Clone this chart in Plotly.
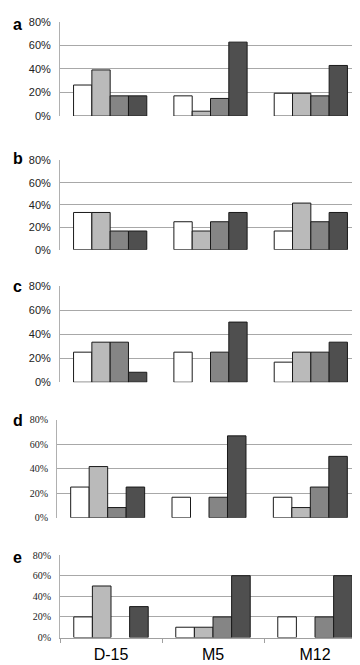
import plotly.graph_objects as go

categories = ["D-15", "M5", "M12"]
panel_letters = ["a", "b", "c", "d", "e"]

# series values (%) per panel: s1 white, s2 light grey, s3 mid grey, s4 dark grey
a_s1 = [26.4, 17.2, 19.4]
a_s2 = [39.2, 4.2, 19.4]
a_s3 = [17.2, 15.0, 17.2]
a_s4 = [17.2, 62.8, 43.0]

b_s1 = [33.3, 25.0, 16.7]
b_s2 = [33.3, 16.7, 41.7]
b_s3 = [16.7, 25.0, 25.0]
b_s4 = [16.7, 33.3, 33.3]

c_s1 = [25.0, 25.0, 16.7]
c_s2 = [33.3, 0.0, 25.0]
c_s3 = [33.3, 25.0, 25.0]
c_s4 = [8.3, 50.0, 33.3]

d_s1 = [25.0, 16.7, 16.7]
d_s2 = [41.7, 0.0, 8.3]
d_s3 = [8.3, 16.7, 25.0]
d_s4 = [25.0, 66.7, 50.0]

e_s1 = [20.0, 10.0, 20.0]
e_s2 = [50.0, 10.0, 0.0]
e_s3 = [0.0, 20.0, 20.0]
e_s4 = [30.0, 60.0, 60.0]

y_ticks = [0, 20, 40, 60, 80]

panels = [
    [a_s1, a_s2, a_s3, a_s4],
    [b_s1, b_s2, b_s3, b_s4],
    [c_s1, c_s2, c_s3, c_s4],
    [d_s1, d_s2, d_s3, d_s4],
    [e_s1, e_s2, e_s3, e_s4],
]

W, H = 360, 665
# pixel layout: (top, bottom, left, right)
boxes = [
    (8, 104, 52, 353),
    (149, 240, 52, 353),
    (277, 375, 52, 353),
    (413, 513, 49, 353),
    (551, 635, 52, 358),
]
label_y = [11, 147, 277, 414, 553]
fills = ["#ffffff", "#bababa", "#858585", "#4f4f4f"]
tick_fonts = ["Liberation Sans"] * 3 + ["Liberation Serif"] * 2
tick_sizes = [11, 11, 11, 10, 10]

fig = go.Figure()
layout = {}
for i, series in enumerate(panels):
    top, bot, left, right = boxes[i]
    xn = "x" if i == 0 else f"x{i+1}"
    yn = "y" if i == 0 else f"y{i+1}"
    for j, vals in enumerate(series):
        fig.add_trace(go.Bar(
            x=categories,
            y=[v if v > 0 else None for v in vals],
            xaxis=xn, yaxis=yn,
            marker=dict(color=fills[j], line=dict(color="#1a1a1a", width=1)),
            showlegend=False,
        ))
    last = i == 4
    layout["xaxis" if i == 0 else f"xaxis{i+1}"] = dict(
        domain=[left / W, right / W],
        anchor=yn,
        showticklabels=last,
        tickfont=dict(family="Liberation Sans", size=16, color="#000"),
        ticklabelstandoff=2,
        showline=last, linecolor="#a0a0a0", linewidth=1,
        ticks="outside" if last else "", tickson="boundaries",
        ticklen=4, tickcolor="#a0a0a0",
        showgrid=False, fixedrange=True,
    )
    layout["yaxis" if i == 0 else f"yaxis{i+1}"] = dict(
        domain=[1 - bot / H, 1 - top / H],
        anchor=xn,
        range=[0, 80],
        tickvals=y_ticks,
        ticktext=[f"{t}%" for t in y_ticks],
        tickfont=dict(family=tick_fonts[i], size=tick_sizes[i], color="#222"),
        ticklabelstandoff=6,
        showgrid=True, gridcolor="#a8a8a8", gridwidth=1,
        zeroline=False,
        showline=True, linecolor="#b0b0b0", linewidth=1,
        fixedrange=True,
    )
    fig.add_annotation(
        x=3 / W, y=1 - label_y[i] / H, xref="paper", yref="paper",
        text=f"<b>{panel_letters[i]}</b>", showarrow=False,
        xanchor="left", yanchor="middle",
        font=dict(family="Liberation Sans", size=16, color="#000"),
    )

fig.update_layout(
    width=W, height=H,
    margin=dict(l=0, r=0, t=0, b=0),
    paper_bgcolor="#ffffff", plot_bgcolor="#ffffff",
    barmode="group", bargap=0.27, bargroupgap=0,
    **layout,
)
fig.write_html("out.html")
